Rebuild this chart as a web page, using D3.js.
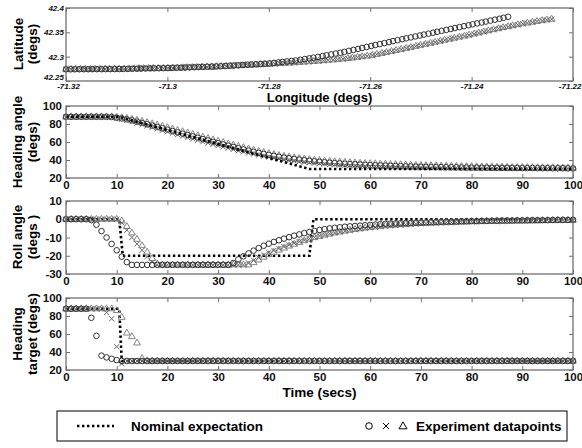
<!DOCTYPE html>
<html><head><meta charset="utf-8">
<script src="https://cdn.jsdelivr.net/npm/d3@7"></script>
<style>
body{margin:0;background:#fff}
svg{display:block}
text{font-family:"Liberation Sans",Arial,Helvetica,sans-serif}
</style>
</head><body>
<svg id="c" width="582" height="448"></svg>
<script>
// ---------------- DATA ----------------
const lonTicks = [-71.32, -71.3, -71.28, -71.26, -71.24, -71.22];
const latTicks = [42.25, 42.3, 42.35, 42.4];
const timeTicks = [0, 10, 20, 30, 40, 50, 60, 70, 80, 90, 100];
const headTicks = [20, 40, 60, 80, 100];
const rollTicks = [-30, -20, -10, 0, 10];

// position track (circles)
const lonCirc = [-71.3200,-71.3191,-71.3183,-71.3174,-71.3165,-71.3156,-71.3148,-71.3139,-71.3130,-71.3122,
-71.3113,-71.3104,-71.3095,-71.3087,-71.3078,-71.3069,-71.3060,-71.3052,-71.3043,-71.3034,
-71.3026,-71.3017,-71.3008,-71.2999,-71.2991,-71.2982,-71.2973,-71.2965,-71.2956,-71.2947,
-71.2938,-71.2930,-71.2921,-71.2912,-71.2904,-71.2895,-71.2886,-71.2877,-71.2869,-71.2860,
-71.2851,-71.2842,-71.2834,-71.2825,-71.2816,-71.2808,-71.2799,-71.2790,-71.2781,-71.2773,
-71.2764,-71.2755,-71.2747,-71.2738,-71.2729,-71.2720,-71.2712,-71.2703,-71.2694,-71.2686,
-71.2677,-71.2668,-71.2659,-71.2651,-71.2642,-71.2633,-71.2624,-71.2616,-71.2607,-71.2598,
-71.2590,-71.2581,-71.2572,-71.2563,-71.2555,-71.2546,-71.2537,-71.2529,-71.2520,-71.2511,
-71.2502,-71.2494,-71.2485,-71.2476,-71.2468,-71.2459,-71.2450,-71.2441,-71.2433,-71.2424,
-71.2415,-71.2406,-71.2398,-71.2389,-71.2380,-71.2372,-71.2363,-71.2354,-71.2345,-71.2337,-71.2328];
const latCirc = [42.2740,42.2740,42.2741,42.2741,42.2742,42.2742,42.2743,42.2743,42.2743,42.2744,
42.2744,42.2745,42.2746,42.2747,42.2749,42.2751,42.2753,42.2755,42.2757,42.2759,
42.2760,42.2762,42.2764,42.2765,42.2768,42.2771,42.2774,42.2777,42.2780,42.2784,
42.2787,42.2790,42.2793,42.2796,42.2799,42.2803,42.2808,42.2814,42.2819,42.2824,
42.2829,42.2835,42.2840,42.2845,42.2850,42.2855,42.2861,42.2872,42.2882,42.2892,
42.2902,42.2912,42.2921,42.2936,42.2951,42.2965,42.2980,42.2995,42.3012,42.3029,
42.3046,42.3064,42.3081,42.3099,42.3119,42.3139,42.3159,42.3179,42.3199,42.3219,
42.3239,42.3259,42.3279,42.3299,42.3319,42.3339,42.3358,42.3377,42.3396,42.3416,
42.3435,42.3454,42.3473,42.3492,42.3511,42.3531,42.3550,42.3569,42.3588,42.3607,
42.3626,42.3646,42.3665,42.3684,42.3702,42.3721,42.3741,42.3760,42.3779,42.3799,42.3820];
// position track (crosses and triangles)
const lonTri = [-71.3200,-71.3190,-71.3181,-71.3171,-71.3162,-71.3152,-71.3143,-71.3133,-71.3123,-71.3114,
-71.3104,-71.3095,-71.3085,-71.3075,-71.3066,-71.3056,-71.3047,-71.3037,-71.3028,-71.3018,
-71.3008,-71.2999,-71.2989,-71.2980,-71.2970,-71.2961,-71.2951,-71.2942,-71.2932,-71.2922,
-71.2913,-71.2903,-71.2894,-71.2884,-71.2875,-71.2865,-71.2855,-71.2846,-71.2836,-71.2826,
-71.2817,-71.2807,-71.2798,-71.2788,-71.2778,-71.2769,-71.2759,-71.2750,-71.2740,-71.2731,
-71.2721,-71.2711,-71.2702,-71.2692,-71.2683,-71.2673,-71.2664,-71.2654,-71.2644,-71.2635,
-71.2625,-71.2616,-71.2606,-71.2596,-71.2587,-71.2577,-71.2568,-71.2558,-71.2549,-71.2539,
-71.2529,-71.2520,-71.2510,-71.2501,-71.2491,-71.2481,-71.2472,-71.2462,-71.2453,-71.2443,
-71.2434,-71.2424,-71.2414,-71.2405,-71.2395,-71.2386,-71.2376,-71.2367,-71.2357,-71.2347,
-71.2338,-71.2328,-71.2319,-71.2309,-71.2299,-71.2290,-71.2280,-71.2271,-71.2261,-71.2252,-71.2242];
const latTri = [42.2740,42.2740,42.2741,42.2741,42.2742,42.2742,42.2743,42.2743,42.2744,42.2744,
42.2745,42.2746,42.2748,42.2751,42.2753,42.2755,42.2757,42.2759,42.2760,42.2760,
42.2761,42.2762,42.2766,42.2769,42.2772,42.2775,42.2778,42.2781,42.2785,42.2788,
42.2791,42.2794,42.2798,42.2803,42.2808,42.2813,42.2817,42.2822,42.2827,42.2832,
42.2837,42.2841,42.2846,42.2852,42.2858,42.2864,42.2869,42.2875,42.2882,42.2889,
42.2895,42.2902,42.2909,42.2917,42.2926,42.2934,42.2943,42.2951,42.2962,42.2975,
42.2987,42.2999,42.3012,42.3027,42.3048,42.3068,42.3088,42.3108,42.3128,42.3149,
42.3170,42.3191,42.3212,42.3234,42.3255,42.3276,42.3297,42.3318,42.3339,42.3360,
42.3381,42.3402,42.3423,42.3444,42.3466,42.3488,42.3510,42.3532,42.3554,42.3576,
42.3596,42.3616,42.3636,42.3656,42.3676,42.3692,42.3708,42.3724,42.3740,42.3755,42.3770];

// time samples (secs)
const time = [0,1,2,3,4,5,6,7,8,9,10,11,12,13,14,15,16,17,18,19,20,21,22,23,24,25,26,27,28,29,
30,31,32,33,34,35,36,37,38,39,40,41,42,43,44,45,46,47,48,49,50,51,52,53,54,55,56,57,58,59,
60,61,62,63,64,65,66,67,68,69,70,71,72,73,74,75,76,77,78,79,80,81,82,83,84,85,86,87,88,89,
90,91,92,93,94,95,96,97,98,99,100];

// heading angle (degs)
const headCirc = [88,88,88,88,88,88,88,88,88,87.8,
87,86.2,85.2,84,82.6,81.2,79.7,78.2,76.7,75.2,
73.7,72.2,70.7,69.2,67.7,66.2,64.7,63.2,61.7,60.2,
58.7,57.3,55.9,54.5,53.1,51.7,50.4,49.1,47.9,46.7,
45.6,44.6,43.6,42.7,41.9,41.1,40.4,39.7,39.1,38.5,
38,37.5,37,36.6,36.2,35.8,35.5,35.2,34.9,34.6,
34.3,34.1,33.9,33.7,33.5,33.3,33.1,32.9,32.8,32.6,
32.5,32.4,32.3,32.2,32.1,32,31.9,31.8,31.7,31.6,
31.5,31.5,31.4,31.4,31.3,31.3,31.2,31.2,31.1,31.1,
31.0,31.0,31.0,30.9,30.9,30.9,30.8,30.8,30.8,30.7,30.7];
const headX = [88,88,88,88,88,88,88,88,88,87.5,
86.5,85.3,84,82.5,81,79.4,77.8,76.2,74.6,73,
71.4,69.8,68.2,66.6,65,63.4,61.9,60.4,58.9,57.4,
56,54.6,53.2,51.8,50.4,49.1,47.8,46.6,45.4,44.3,
43.2,42.2,41.3,40.4,39.6,38.9,38.2,37.6,37,36.5,
36,35.6,35.2,34.8,34.5,34.2,33.9,33.7,33.5,33.3,
33.1,32.9,32.7,32.6,32.4,32.3,32.2,32.1,32,31.9,
31.8,31.7,31.6,31.6,31.5,31.4,31.4,31.3,31.3,31.2,
31.2,31.1,31.1,31.0,31.0,31.0,30.9,30.9,30.9,30.8,
30.8,30.8,30.7,30.7,30.7,30.7,30.6,30.6,30.6,30.6,30.5];
const headTri = [88,88,88,88,88,88,88,88,88,88,
87.5,87,86.2,85.3,84.2,83,81.7,80.3,78.9,77.5,
76,74.5,73,71.5,70,68.5,67,65.5,64,62.5,
61,59.5,58,56.6,55.2,53.8,52.4,51,49.7,48.4,
47.2,46.1,45.1,44.2,43.3,42.5,41.8,41.1,40.5,39.9,
39.4,38.9,38.5,38.1,37.7,37.4,37.1,36.8,36.5,36.2,
36,35.8,35.6,35.4,35.2,35,34.8,34.6,34.4,34.2,
34,33.8,33.7,33.5,33.4,33.2,33.1,33,32.8,32.7,
32.6,32.5,32.4,32.3,32.2,32.1,32,31.9,31.8,31.7,
31.6,31.6,31.5,31.4,31.4,31.3,31.3,31.2,31.1,31.1,31];
const headNomT = [0, 10.5, 48, 100];
const headNomV = [88, 88, 30, 30];

// roll angle (degs)
const rollCirc = [0,0,0,0,0,-0.5,-3,-6.5,-10,-13.5,
-17,-20.5,-23.5,-25,-25,-25,-25,-25,-25,-25,
-25,-25,-25,-25,-25,-25,-25,-25,-25,-25,
-25,-25,-25,-24,-22,-20.3,-18.7,-17.2,-15.8,-14.5,
-13.4,-12.4,-11.5,-10.6,-9.8,-9,-8.3,-7.6,-7,-6.4,
-5.9,-5.4,-5,-4.7,-4.4,-4.1,-3.9,-3.7,-3.5,-3.3,
-3.1,-2.9,-2.7,-2.5,-2.4,-2.3,-2.2,-2.1,-2,-1.9,
-1.8,-1.7,-1.6,-1.5,-1.4,-1.3,-1.3,-1.2,-1.1,-1.1,
-1,-1,-0.9,-0.9,-0.8,-0.8,-0.7,-0.7,-0.7,-0.6,
-0.6,-0.6,-0.5,-0.5,-0.5,-0.5,-0.4,-0.4,-0.4,-0.4,-0.3];
const rollX = [0,0,0,0,0,0,0,0,0,0,
0,-2,-6,-10,-13.5,-17,-20.5,-23.5,-25,-25,
-25,-25,-25,-25,-25,-25,-25,-25,-25,-25,
-25,-25,-25,-25,-25,-25,-24,-22.5,-21,-19.6,
-18.3,-17.1,-16,-15,-14,-13.1,-12.2,-11.4,-10.6,-9.9,
-9.2,-8.6,-8,-7.5,-7,-6.5,-6.1,-5.7,-5.3,-5,
-4.7,-4.4,-4.1,-3.8,-3.6,-3.4,-3.2,-3,-2.8,-2.6,
-2.5,-2.3,-2.2,-2.1,-2,-1.9,-1.8,-1.7,-1.6,-1.5,
-1.4,-1.4,-1.3,-1.2,-1.2,-1.1,-1.1,-1,-1,-0.9,
-0.9,-0.9,-0.8,-0.8,-0.8,-0.7,-0.7,-0.7,-0.6,-0.6,-0.6];
const rollTri = [0,0,0,0,0,0,0,0,0,0,
0,-1,-4,-7.5,-11,-14.5,-18,-21.5,-24.5,-25,
-25,-25,-25,-25,-25,-25,-25,-25,-25,-25,
-25,-25,-25,-25,-25,-25,-25,-23.8,-22.3,-20.8,
-19.4,-18.1,-16.9,-15.8,-14.7,-13.7,-12.7,-11.8,-10.9,-10.1,
-9.4,-8.7,-8.1,-7.5,-7,-6.5,-6,-5.6,-5.2,-4.8,
-4.5,-4.2,-3.9,-3.6,-3.4,-3.2,-3,-2.8,-2.6,-2.4,
-2.3,-2.2,-2.1,-2,-1.9,-1.8,-1.7,-1.6,-1.5,-1.4,
-1.3,-1.3,-1.2,-1.2,-1.1,-1.1,-1,-1,-0.9,-0.9,
-0.9,-0.8,-0.8,-0.8,-0.7,-0.7,-0.7,-0.6,-0.6,-0.6,-0.5];
const rollNomT = [0, 10.5, 11.2, 48, 48.8, 100];
const rollNomV = [0, 0, -20, -20, 0, 0];

// heading target (degs)
const tgtCirc = [88,88,88,88,88,78,58,36,34,32.5,
31,30,30,30,30,30,30,30,30,30,
30,30,30,30,30,30,30,30,30,30,
30,30,30,30,30,30,30,30,30,30,
30,30,30,30,30,30,30,30,30,30,
30,30,30,30,30,30,30,30,30,30,
30,30,30,30,30,30,30,30,30,30,
30,30,30,30,30,30,30,30,30,30,
30,30,30,30,30,30,30,30,30,30,
30,30,30,30,30,30,30,30,30,30,30];
const tgtX = [88,88,88,88,88,88,88,88,84,77,
46,27,30,30,30,30,30,30,30,30,
30,30,30,30,30,30,30,30,30,30,
30,30,30,30,30,30,30,30,30,30,
30,30,30,30,30,30,30,30,30,30,
30,30,30,30,30,30,30,30,30,30,
30,30,30,30,30,30,30,30,30,30,
30,30,30,30,30,30,30,30,30,30,
30,30,30,30,30,30,30,30,30,30,
30,30,30,30,30,30,30,30,30,30,30];
const tgtTri = [88,88,88,88,88,88,88,88,88,88,
86,78.5,61,57,50,33,30,30,30,30,
30,30,30,30,30,30,30,30,30,30,
30,30,30,30,30,30,30,30,30,30,
30,30,30,30,30,30,30,30,30,30,
30,30,30,30,30,30,30,30,30,30,
30,30,30,30,30,30,30,30,30,30,
30,30,30,30,30,30,30,30,30,30,
30,30,30,30,30,30,30,30,30,30,
30,30,30,30,30,30,30,30,30,30,30];
const tgtNomT = [0, 10.5, 11, 100];
const tgtNomV = [88, 88, 30, 30];

// ---------------- DRAWING ----------------
const svg = d3.select('#c');
const L = 66, R = 573;
const FRAME = '#707070';
const C_CIRC = '#333', C_X = '#666', C_TRI = '#858585';

function styleAxis(sel, fs, italic) {
  sel.select('.domain').remove();
  sel.selectAll('.tick line').attr('stroke', FRAME).attr('stroke-width', 1);
  sel.selectAll('.tick text').attr('fill', '#111')
    .style('font-size', fs + 'px').style('font-weight', 'bold')
    .style('font-style', italic ? 'italic' : 'normal')
    .style('font-family', '"Liberation Sans", Arial, sans-serif');
}

function makePanel(top, bottom, xDom, yDom, xT, yT, xFmt, yFmt, small) {
  const x = d3.scaleLinear().domain(xDom).range([L, R]);
  const y = d3.scaleLinear().domain(yDom).range([bottom, top]);
  const g = svg.append('g');
  const fs = small ? 8 : 11.5;
  const bx = g.append('g').attr('transform', `translate(0,${bottom})`)
    .call(d3.axisBottom(x).tickValues(xT).tickFormat(xFmt).tickSize(-4).tickPadding(2.5))
    .call(s => styleAxis(s, fs, small));
  g.append('g').attr('transform', `translate(0,${top})`)
    .call(d3.axisTop(x).tickValues(xT).tickFormat('').tickSize(-4))
    .call(s => styleAxis(s, fs, small));
  const ly = g.append('g').attr('transform', `translate(${L},0)`)
    .call(d3.axisLeft(y).tickValues(yT).tickFormat(yFmt).tickSize(-4).tickPadding(small ? 2 : 4))
    .call(s => styleAxis(s, fs, small));
  g.append('g').attr('transform', `translate(${R},0)`)
    .call(d3.axisRight(y).tickValues(yT).tickFormat('').tickSize(-4))
    .call(s => styleAxis(s, fs, small));
  const plot = g.append('g');
  g.append('rect').attr('x', L).attr('y', top).attr('width', R - L).attr('height', bottom - top)
    .attr('fill', 'none').attr('stroke', FRAME).attr('stroke-width', 1.3);
  return {x, y, plot, bx, ly};
}

function drawNominal(p, ts, vs) {
  const pts = ts.map((t, i) => [t, vs[i]]);
  p.plot.append('path')
    .attr('d', d3.line().x(d => p.x(d[0])).y(d => p.y(d[1]))(pts))
    .attr('fill', 'none').attr('stroke', '#000').attr('stroke-width', 2.6)
    .attr('stroke-dasharray', '2.4,2.6');
}
function drawCircles(p, xs, ys) {
  p.plot.append('g').selectAll('circle').data(xs.map((v, i) => [v, ys[i]])).join('circle')
    .attr('cx', d => p.x(d[0])).attr('cy', d => p.y(d[1])).attr('r', 2.8)
    .attr('fill', 'none').attr('stroke', C_CIRC).attr('stroke-width', 1);
}
function drawX(p, xs, ys) {
  const s = 2.6;
  p.plot.append('g').selectAll('path').data(xs.map((v, i) => [v, ys[i]])).join('path')
    .attr('d', d => {
      const cx = p.x(d[0]), cy = p.y(d[1]);
      return `M${cx - s},${cy - s}L${cx + s},${cy + s}M${cx - s},${cy + s}L${cx + s},${cy - s}`;
    })
    .attr('fill', 'none').attr('stroke', C_X).attr('stroke-width', 1);
}
function drawTri(p, xs, ys) {
  const sym = d3.symbol().type(d3.symbolTriangle).size(20);
  p.plot.append('g').selectAll('path').data(xs.map((v, i) => [v, ys[i]])).join('path')
    .attr('transform', d => `translate(${p.x(d[0])},${p.y(d[1])})`)
    .attr('d', sym)
    .attr('fill', 'none').attr('stroke', C_TRI).attr('stroke-width', 1);
}

const fmtNum = d => String(d);

// Panel 1: Latitude vs Longitude
const p1 = makePanel(8, 81, [-71.32, -71.22], [42.25, 42.4], lonTicks, latTicks, fmtNum, fmtNum, true);
p1.bx.selectAll('.tick text').filter(d => d === -71.22).attr('text-anchor', 'end').attr('dx', 8);
p1.bx.selectAll('.tick text').filter(d => d === -71.32).attr('dx', 2);
p1.ly.selectAll('.tick text').filter(d => d === 42.25).attr('dy', '-0.15em');
drawTri(p1, lonTri, latTri);
drawX(p1, lonTri, latTri);
drawCircles(p1, lonCirc, latCirc);

// Panel 2: Heading angle
const p2 = makePanel(106, 178, [0, 100], [20, 100], timeTicks, headTicks, fmtNum, fmtNum, false);
drawTri(p2, time, headTri);
drawCircles(p2, time, headCirc);
drawX(p2, time, headX);
drawNominal(p2, headNomT, headNomV);

// Panel 3: Roll angle
const p3 = makePanel(201, 274, [0, 100], [-30, 10], timeTicks, rollTicks, fmtNum, fmtNum, false);
drawNominal(p3, rollNomT, rollNomV);
drawTri(p3, time, rollTri);
drawX(p3, time, rollX);
drawCircles(p3, time, rollCirc);

// Panel 4: Heading target
const p4 = makePanel(298, 370, [0, 100], [20, 100], timeTicks, headTicks, fmtNum, fmtNum, false);
drawNominal(p4, tgtNomT, tgtNomV);
drawTri(p4, time, tgtTri);
drawX(p4, time, tgtX);
drawCircles(p4, time, tgtCirc);

// Axis titles
function xTitle(txt, y, fs) {
  svg.append('text').attr('x', (L + R) / 2).attr('y', y).attr('text-anchor', 'middle')
    .style('font-size', fs + 'px').style('font-weight', 'bold').text(txt);
}
xTitle('Longitude (degs)', 102, 13);
xTitle('Time (secs)', 397, 13.5);

function yTitle(lines, cy, xs) {
  lines.forEach((t, i) => {
    svg.append('text').attr('transform', `translate(${xs[i]},${cy}) rotate(-90)`)
      .attr('text-anchor', 'middle')
      .style('font-size', '13.5px').style('font-weight', 'bold').text(t);
  });
}
yTitle(['Latitude', '(degs)'], 44, [23, 37]);
yTitle(['Heading angle', '(degs)'], 142, [22, 37]);
yTitle(['Roll angle', '(degs )'], 237, [22, 37]);
yTitle(['Heading', 'target (degs)'], 334, [22, 37]);

// Legend
const lg = svg.append('g');
lg.append('rect').attr('x', 57).attr('y', 411).attr('width', 510).attr('height', 30)
  .attr('fill', '#fff').attr('stroke', '#000').attr('stroke-width', 1);
lg.append('line').attr('x1', 77).attr('x2', 114).attr('y1', 426).attr('y2', 426)
  .attr('stroke', '#000').attr('stroke-width', 2.6).attr('stroke-dasharray', '2.4,2.6');
lg.append('text').attr('x', 131).attr('y', 431).style('font-size', '13.5px').style('font-weight', 'bold')
  .text('Nominal expectation');
lg.append('circle').attr('cx', 369).attr('cy', 426).attr('r', 3.3).attr('fill', 'none')
  .attr('stroke', '#000').attr('stroke-width', 1);
lg.append('path').attr('d', 'M383,423L389,429M383,429L389,423').attr('stroke', '#000').attr('stroke-width', 1);
lg.append('path').attr('transform', 'translate(403,426.5)').attr('d', d3.symbol().type(d3.symbolTriangle).size(28))
  .attr('fill', 'none').attr('stroke', '#000').attr('stroke-width', 1);
lg.append('text').attr('x', 416).attr('y', 431).style('font-size', '13.5px').style('font-weight', 'bold')
  .text('Experiment datapoints');
</script>
</body></html>
